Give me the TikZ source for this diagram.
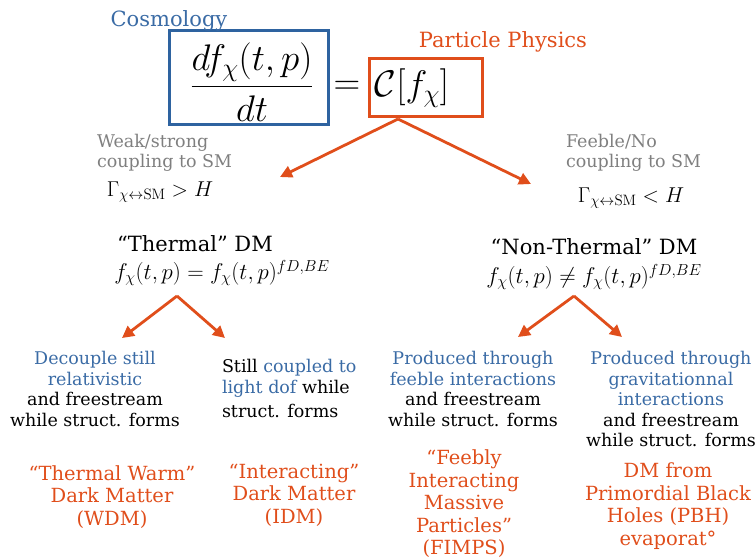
\RequirePackage{fix-cm}
\documentclass[tikz,border=0pt]{standalone}
\usepackage[no-math]{fontspec}
\setmainfont{DejaVu Serif}
\usetikzlibrary{arrows.meta}
\definecolor{dmorange}{HTML}{E04E1B}
\definecolor{dmblue}{HTML}{3A6BA5}
\definecolor{boxblue}{HTML}{2E63A0}
\definecolor{dmgray}{HTML}{7F7F7F}
\begin{document}
\begin{tikzpicture}[x=1pt,y=-1pt,
  arr/.style={draw=dmorange, line width=2.8pt, -{Triangle[length=12pt,width=12pt]}},
  plain/.style={inner sep=0pt, outer sep=0pt},
  lvl/.style={plain, font=\fontsize{17.5}{20.5}\selectfont, align=center},
  res/.style={plain, font=\fontsize{19.5}{22.5}\selectfont, align=center, text=dmorange},
  graytxt/.style={plain, font=\fontsize{17.5}{20.5}\selectfont, align=left, text=dmgray, anchor=west},
  head/.style={plain, font=\fontsize{21}{25}\selectfont},
  mth/.style={plain, font=\fontsize{21.5}{25}\selectfont},
  fline/.style={plain, font=\fontsize{22.8}{27}\selectfont},
  bigm/.style={plain, font=\fontsize{37}{44}\selectfont},
  frame/.style={draw, line width=3pt, inner sep=0pt}]
\useasboundingbox (0,0) rectangle (755,558);

% top equation
\node[frame, draw=boxblue, minimum width=159pt, minimum height=94pt] (cosbox) at (248.5,77) {};
\node[frame, draw=dmorange, minimum width=113pt, minimum height=58pt] (ppbox) at (425.5,87) {};
\node[bigm] (frac) at (252,82) {$\displaystyle\frac{df_\chi(t,p)}{dt}$};
\node[bigm] (eq) at (347,88) {$=$};
\node[bigm] (coll) at (412,88) {$\mathcal{C}[f_\chi]$};
\node[head, text=dmblue] (cosmo) at (169,21) {Cosmology};
\node[head, text=dmorange] (partphys) at (503,42) {Particle Physics};

% coupling labels
\node[graytxt] (weak) at (97,153) {Weak/strong\\coupling to SM};
\node[mth] (gamgt) at (160,192) {$\Gamma_{\chi\leftrightarrow\mathrm{SM}} > H$};
\node[graytxt] (feeble) at (566,153) {Feeble/No\\coupling to SM};
\node[mth] (gamlt) at (631,198) {$\Gamma_{\chi\leftrightarrow\mathrm{SM}} < H$};

% headings
\node[head] (therm) at (195,244) {“Thermal” DM};
\node[fline] (feq) at (222,273) {$f_\chi(t,p) = f_\chi(t,p)^{fD,BE}$};
\node[head] (ntherm) at (594,247) {“Non-Thermal” DM};
\node[fline] (fneq) at (594,277) {$f_\chi(t,p) \neq f_\chi(t,p)^{fD,BE}$};

% arrows
\coordinate (split) at (398,119);
\coordinate (tipL) at (280,177);
\coordinate (tipR) at (531,184);
\draw[arr] (split) -- (tipL);
\draw[arr] (split) -- (tipR);

\coordinate (splitL) at (177,296);
\coordinate (tipLL) at (122,338);
\coordinate (tipLR) at (225,338);
\draw[arr] (splitL) -- (tipLL);
\draw[arr] (splitL) -- (tipLR);

\coordinate (splitR) at (574,296);
\coordinate (tipRL) at (518,337);
\coordinate (tipRR) at (622,337);
\draw[arr] (splitR) -- (tipRL);
\draw[arr] (splitR) -- (tipRR);

% level 3 descriptions
\node[lvl] (d1) at (95,389) {{\color{dmblue}Decouple still}\\{\color{dmblue}relativistic}\\and freestream\\while struct. forms};
\node[lvl, align=left, anchor=west] (d2) at (222,388.5) {Still {\color{dmblue}coupled to}\\{\color{dmblue}light dof} while\\[3.5pt]struct. forms};
\node[lvl] (d3) at (473,389) {{\color{dmblue}Produced through}\\{\color{dmblue}feeble interactions}\\and freestream\\while struct. forms};
\node[lvl] (d4) at (671,399) {{\color{dmblue}Produced through}\\{\color{dmblue}gravitationnal}\\{\color{dmblue}interactions}\\and freestream\\while struct. forms};

% results
\node[res] (r1) at (112,497) {“Thermal Warm”\\Dark Matter\\(WDM)};
\node[res] (r2) at (294,495) {“Interacting”\\Dark Matter\\(IDM)};
\node[res] (r3) at (464,504) {“Feebly\\Interacting\\Massive\\Particles”\\(FIMPS)};
\node[res] (r4) at (668,506) {DM from\\Primordial Black\\Holes (PBH)\\evaporat°};
\end{tikzpicture}
\end{document}
